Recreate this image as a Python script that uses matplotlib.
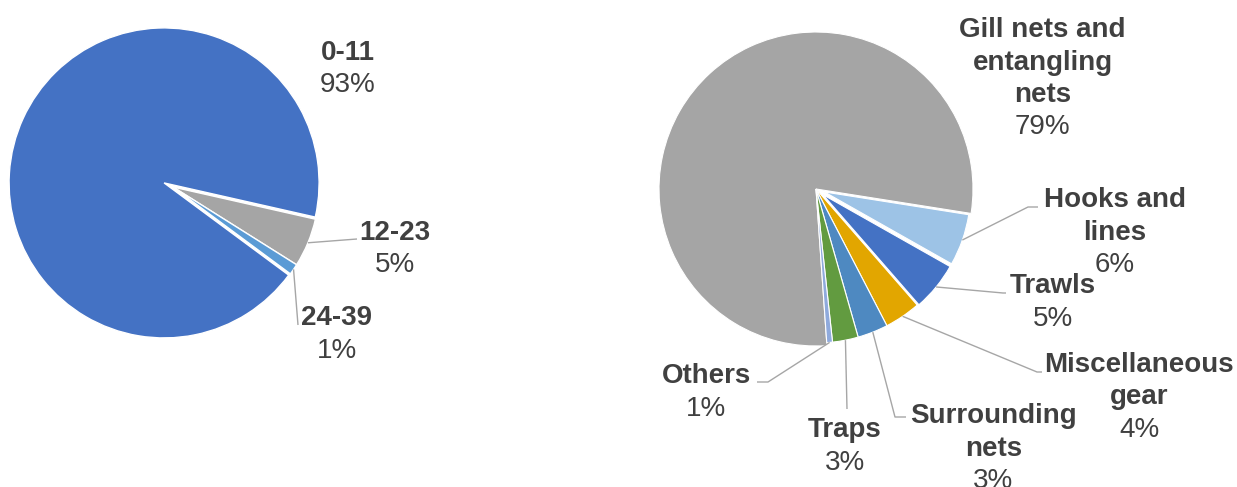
import numpy as np
import matplotlib
matplotlib.use("Agg")
import matplotlib.pyplot as plt

# ---------------- data ----------------
age_names = ["0-11", "12-23", "24-39"]
age_values = [93.4, 5.4, 1.2]
age_colors = ["#4472C4", "#A5A5A5", "#5B9BD5"]

gear_names = ["Gill nets and\nentangling\nnets", "Hooks and\nlines", "Trawls",
              "Miscellaneous\ngear", "Surrounding\nnets", "Traps", "Others"]
gear_values = [78.6, 5.7, 5.4, 3.8, 3.2, 2.7, 0.6]
gear_colors = ["#A5A5A5", "#9DC3E6", "#4472C4", "#E2A600", "#4E89C1", "#629B40", "#8FAADC"]

# ---------------- layout (pixels) ----------------
W, H = 1237, 487
TXT = "#404040"
LINE = "#A6A6A6"
FS = 20
STEP = 32.5

fig = plt.figure(figsize=(W / 100, H / 100), dpi=100)
ax = fig.add_axes([0, 0, 1, 1])


def Y(y):
    return H - y


# left pie (explode given in pixels: matplotlib offsets in data units)
lc = (173, Y(187))
lw_, _ = ax.pie(age_values, colors=age_colors, startangle=323.5, counterclock=False,
                center=lc, radius=146, explode=[9.8, 0, 0],
                wedgeprops=dict(edgecolor="white", linewidth=1.0))
lw_[0].set_radius(155)

# right pie
rc = (816, Y(189))
rw_, _ = ax.pie(gear_values, colors=gear_colors, startangle=274, counterclock=False,
                center=rc, radius=154, explode=[0, 9, 9, 0, 0, 0, 0],
                wedgeprops=dict(edgecolor="white", linewidth=0.8))
rw_[0].set_radius(157)
rw_[1].set_radius(146)
rw_[2].set_radius(146)

ax.set_xlim(0, W)
ax.set_ylim(0, H)
ax.set_aspect("equal")
ax.axis("off")


def arc_mid(w):
    a = np.deg2rad((w.theta1 + w.theta2) / 2)
    cx, cy = w.center
    r = w.r
    return cx + r * np.cos(a), cy + r * np.sin(a)


def leader(w, pts):
    x0, y0 = arc_mid(w)
    xs = [x0] + [p[0] for p in pts]
    ys = [y0] + [Y(p[1]) for p in pts]
    ax.plot(xs, ys, color=LINE, lw=1.0, solid_capstyle="butt", zorder=1)


def label(x, b0, name, value):
    lines = name.split("\n")
    for i, t in enumerate(lines):
        ax.text(x, Y(b0 + i * STEP), t, ha="center", va="baseline", fontsize=FS,
                fontweight="bold", color=TXT, family="Liberation Sans")
    ax.text(x, Y(b0 + len(lines) * STEP), f"{round(value)}%", ha="center",
            va="baseline", fontsize=FS, color=TXT, family="Liberation Sans")


# left labels
age_pos = [(347.5, 60), (395, 240), (337, 325)]
for (x, b), n, v in zip(age_pos, age_names, age_values):
    label(x, b, n, v)
leader(lw_[1], [(357, 239)])
leader(lw_[2], [(298, 325)])

# right labels
gear_pos = [(1042.5, 37), (1115, 207), (1052.5, 293), (1139, 372),
            (993.5, 423), (845, 437), (706.5, 383)]
for (x, b), n, v in zip(gear_pos, gear_names, gear_values):
    label(x, b, n, v)

leader(rw_[1], [(1028, 207), (1038, 207)])
leader(rw_[2], [(1003, 293), (1006, 293)])
leader(rw_[3], [(1037, 372), (1042, 372)])
leader(rw_[4], [(895, 417), (906, 417)])
leader(rw_[5], [(847, 409)])
leader(rw_[6], [(768, 382), (757, 382)])

fig.savefig("out.png", dpi=100)
